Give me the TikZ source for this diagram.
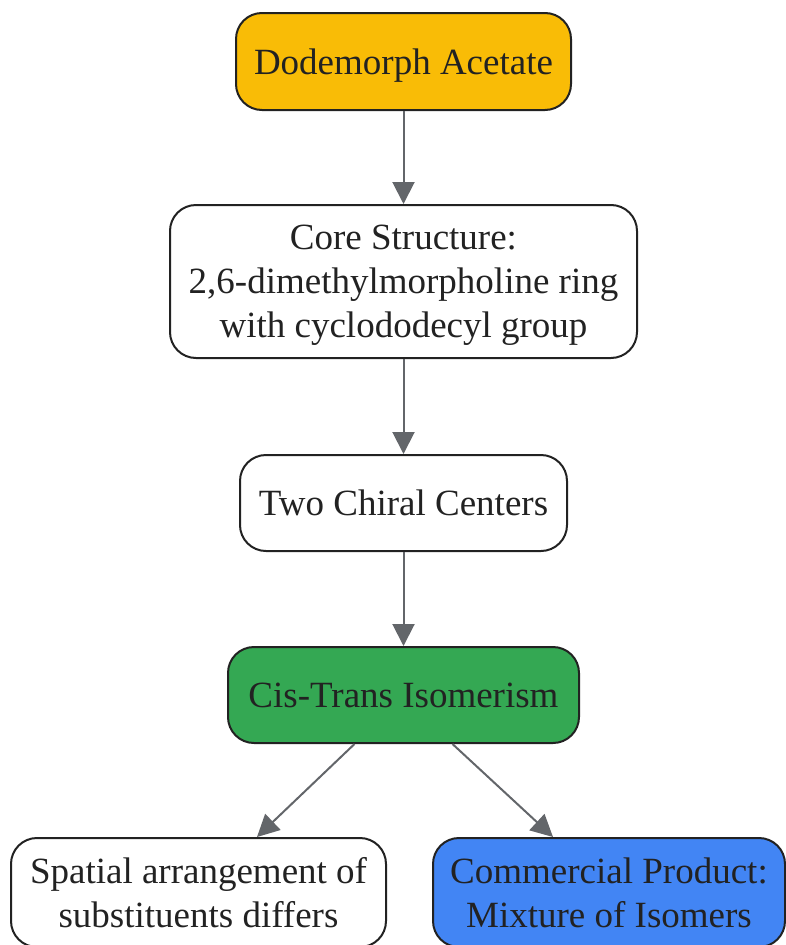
\documentclass[tikz,border=0pt]{standalone}
\usepackage{fontspec}
\setmainfont{Liberation Serif}
\usetikzlibrary{arrows.meta}

\definecolor{boxline}{HTML}{222222}
\definecolor{arrowgrey}{HTML}{63666A}
\definecolor{startyellow}{HTML}{F9BC06}
\definecolor{isogreen}{HTML}{34A853}
\definecolor{mixblue}{HTML}{4285F4}

\begin{document}
\begin{tikzpicture}[x=1pt, y=-1pt,
    box/.style={draw=boxline, line width=2pt, rounded corners=26pt, align=center,
      text=boxline, inner sep=0pt, text depth=-3pt, font=\fontsize{37}{44}\selectfont},
    link/.style={draw=arrowgrey, line width=2pt, -{Triangle[length=22pt,width=22pt]}}]
      \useasboundingbox (0,0) rectangle (786,945);
      \node[box, fill=startyellow, minimum width=335pt, minimum height=97pt] (acetate) at (403.5,61.5) {Dodemorph Acetate};
      \node[box, text depth=-9pt, minimum width=467pt, minimum height=153pt] (core) at (403.5,281.5) {Core Structure:\\2,6-dimethylmorpholine ring\\with cyclododecyl group};
      \node[box, minimum width=327pt, minimum height=96pt] (chiral) at (403.5,503) {Two Chiral Centers};
      \node[box, fill=isogreen, minimum width=351pt, minimum height=96pt] (cistrans) at (403.5,695) {Cis-Trans Isomerism};
      \node[box, text depth=-6pt, minimum width=375pt, minimum height=109pt] (spatial) at (198.5,892.5) {Spatial arrangement of\\substituents differs};
      \node[box, text depth=-6pt, fill=mixblue, minimum width=352pt, minimum height=109pt] (mixture) at (609,892.5) {Commercial Product:\\Mixture of Isomers};
      \draw[link] (acetate) -- (core);
      \draw[link] (core) -- (chiral);
      \draw[link] (chiral) -- (cistrans);
      \draw[link] (cistrans.south) ++(-49pt,0) coordinate (leftfoot) (leftfoot) -- (257,837);
      \draw[link] (cistrans.south) ++(49pt,0) coordinate (rightfoot) (rightfoot) -- (553,837);
    \end{tikzpicture}
\end{document}
